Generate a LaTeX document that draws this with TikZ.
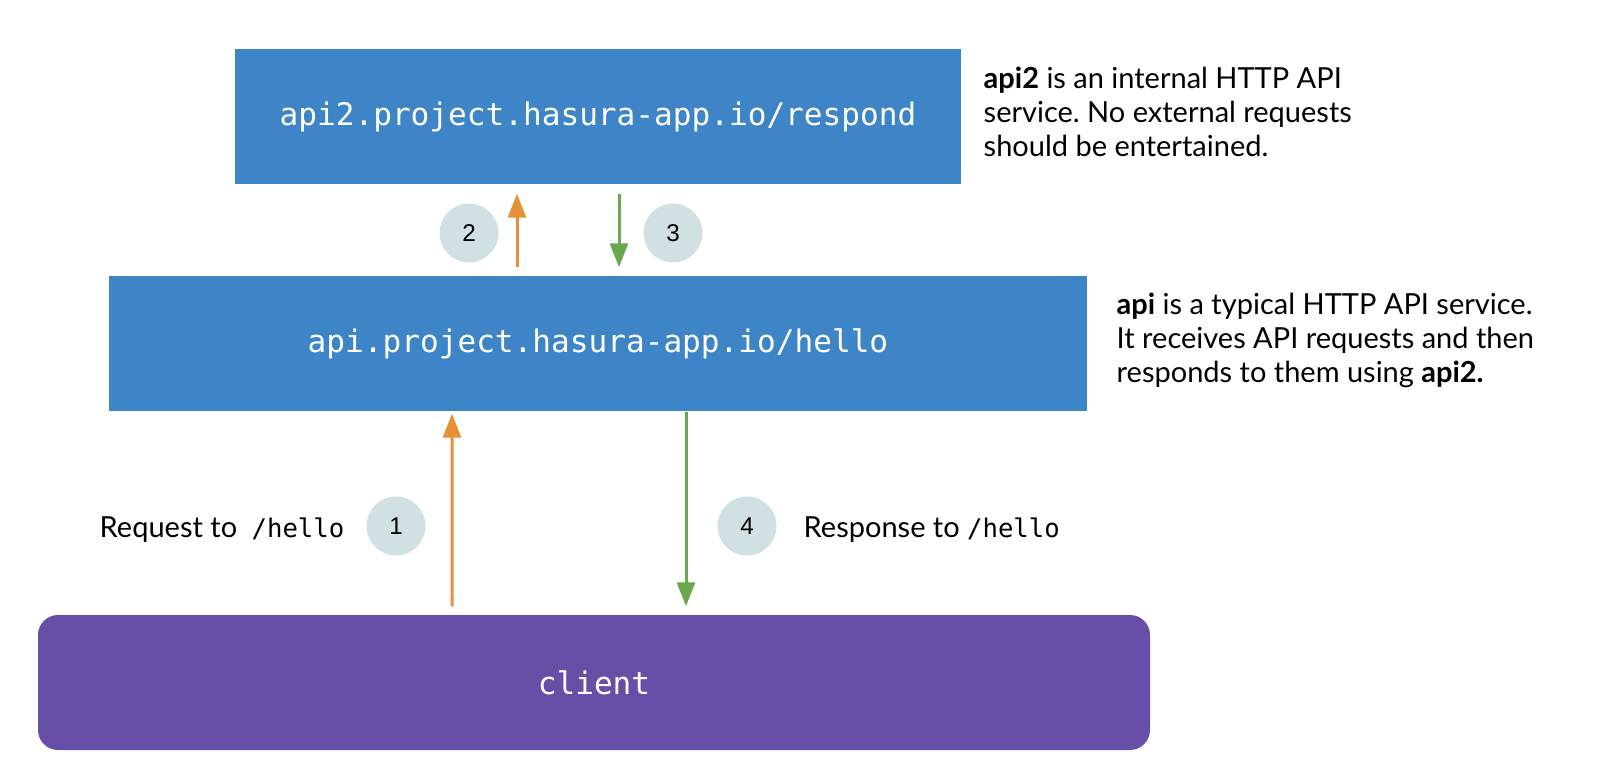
\documentclass[tikz,border=0pt]{standalone}
\usepackage{fontspec}
\setmainfont{Lato}
\setmonofont{DejaVu Sans Mono}
\newfontfamily\digitfont{Liberation Sans}
\usetikzlibrary{arrows.meta}
\definecolor{boxblue}{HTML}{3D85C6}
\definecolor{boxpurple}{HTML}{674EA7}
\definecolor{reqorange}{HTML}{E69138}
\definecolor{respgreen}{HTML}{6AA84F}
\definecolor{badgecyan}{HTML}{D0E0E3}
\frenchspacing
\begin{document}
\begin{tikzpicture}[
    service/.style={fill=boxblue, text=white, inner sep=0pt, minimum height=1.35cm,
        font=\fontsize{8.85}{11}\selectfont\ttfamily},
    badge/.style={circle, fill=badgecyan, minimum size=0.59cm, inner sep=0pt,
        font=\fontsize{6.9}{8}\selectfont\digitfont},
    req/.style={-{Triangle[length=0.24cm,width=0.18cm]}, line width=0.03cm, reqorange},
    resp/.style={-{Triangle[length=0.24cm,width=0.18cm]}, line width=0.03cm, respgreen},
    note/.style={align=left, inner sep=0pt, font=\fontsize{8.25}{9.67}\selectfont}
  ]
    \useasboundingbox (0,0) rectangle (16,-7.77);

    % Service nodes
    \node[service, minimum width=7.255cm] (api2) at (5.98,-1.165) {api2.project.hasura-app.io/respond};
    \node[service, minimum width=9.78cm] (api) at (5.98,-3.435) {api.project.hasura-app.io/hello};
    \node[service, fill=boxpurple, minimum width=11.12cm, rounded corners=0.2cm] (client) at (5.94,-6.825) {client};

    % Notes
    \node[note, anchor=west] (api2note) at (9.83,-1.115)
        {\textbf{api2} is an internal HTTP API\\service. No external requests\\should be entertained.};
    \node[note, anchor=west] (apinote) at (11.16,-3.405)
        {\textbf{api} is a typical HTTP API service.\\It receives API requests and then\\responds to them using \textbf{api2.}};

    % Edges
    \draw[req, shorten <=0.08cm, shorten >=0.02cm] ([xshift=-1.42cm]client.north) -- ([xshift=-1.46cm]api.south);
    \draw[req, shorten <=0.08cm, shorten >=0.09cm] ([xshift=-0.81cm]api.north) -- ([xshift=-0.81cm]api2.south);
    \draw[resp, shorten <=0.09cm, shorten >=0.08cm] ([xshift=0.21cm]api2.south) -- ([xshift=0.21cm]api.north);
    \draw[resp, shorten >=0.08cm] ([xshift=0.88cm]api.south) -- ([xshift=0.92cm]client.north);

    % Step numbers
    \node[badge] (s1) at (3.96,-5.26) {1};
    \node[badge] (s2) at (4.69,-2.33) {2};
    \node[badge] (s3) at (6.73,-2.33) {3};
    \node[badge] (s4) at (7.47,-5.26) {4};

    % Edge labels
    \node[note, anchor=base east] (reqlabel) at (3.45,-5.37) {Request to\enspace\texttt{\fontsize{7.3}{9}\selectfont/hello}};
    \node[note, anchor=base west] (resplabel) at (8.03,-5.37) {Response to \texttt{\fontsize{7.3}{9}\selectfont/hello}};
\end{tikzpicture}
\end{document}
